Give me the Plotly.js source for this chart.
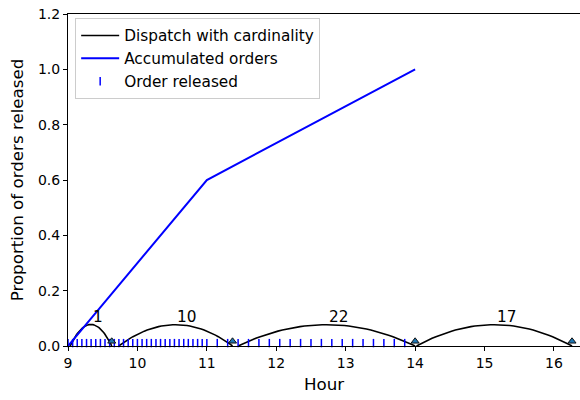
<!DOCTYPE html>
<html>
<head>
<meta charset="utf-8">
<script src="https://cdn.plot.ly/plotly-3.0.1.min.js"></script>
<style>html,body{margin:0;padding:0;background:#fff;}#chart{width:580px;height:400px;}</style>
</head>
<body>
<div id="chart"></div>
<script>
// Data
const accumHours = [9, 11, 14];
const accumProp = [0, 0.6, 1.0];

const releaseHours = [
  9.000, 9.067, 9.133, 9.200, 9.267, 9.333, 9.400, 9.467, 9.533, 9.600,
  9.667, 9.733, 9.800, 9.867, 9.933, 10.000, 10.067, 10.133, 10.200, 10.267,
  10.333, 10.400, 10.467, 10.533, 10.600, 10.667, 10.733, 10.800, 10.867, 10.933,
  11.00, 11.15, 11.30, 11.45, 11.60, 11.75, 11.90, 12.05, 12.20, 12.35,
  12.50, 12.65, 12.80, 12.95, 13.10, 13.25, 13.40, 13.55, 13.70, 13.85
];
const releaseLevel = releaseHours.map(() => 0.0105);

const dispatchStart = [9.03, 9.73, 11.45, 14.02];
const dispatchEnd = [9.63, 11.37, 14.0, 16.26];
const dispatchCount = [1, 10, 22, 17];
const arcHeight = [0.078, 0.077, 0.077, 0.077];
const labelX = [9.43, 10.71, 12.89, 15.31];
const labelY = [0.105, 0.105, 0.105, 0.105];

const FONT = 'DejaVu Sans, sans-serif';

const traces = [];
// Dispatch arcs (quadratic curves between dispatch start and end)
dispatchStart.forEach((s, i) => {
  const e = dispatchEnd[i];
  const h = arcHeight[i];
  const xs = [], ys = [];
  const n = 40;
  for (let k = 0; k <= n; k++) {
    const t = k / n;
    xs.push(s + (e - s) * t);
    ys.push(4 * h * t * (1 - t));
  }
  traces.push({
    x: xs, y: ys, type: 'scatter', mode: 'lines',
    line: {color: 'black', width: 1.6},
    name: 'Dispatch with cardinality',
    legendgroup: 'dispatch',
    showlegend: i === 0,
    hoverinfo: 'skip', cliponaxis: false
  });
});

traces.push({
  x: accumHours, y: accumProp, type: 'scatter', mode: 'lines',
  line: {color: '#0000ff', width: 2},
  name: 'Accumulated orders'
});

traces.push({
  x: releaseHours, y: releaseLevel, type: 'scatter', mode: 'markers',
  marker: {symbol: 'line-ns', size: 6, color: '#0000ff', line: {color: '#0000ff', width: 1.5}},
  name: 'Order released', cliponaxis: false
});

// Arrow heads at dispatch ends
traces.push({
  x: dispatchEnd, y: dispatchEnd.map(() => 0.017), type: 'scatter', mode: 'markers',
  marker: {symbol: 'triangle-up', size: 7, color: '#1f77b4', line: {color: '#111', width: 1}},
  showlegend: false, hoverinfo: 'skip', cliponaxis: false
});

const annotations = dispatchCount.map((c, i) => ({
  x: labelX[i], y: labelY[i], xref: 'x', yref: 'y',
  text: String(c), showarrow: false,
  font: {family: FONT, size: 15.3, color: 'black'},
  xanchor: 'center', yanchor: 'middle'
}));

const layout = {
  width: 580, height: 400,
  margin: {l: 68, r: 0, t: 14, b: 54},
  paper_bgcolor: 'white', plot_bgcolor: 'white',
  font: {family: FONT, size: 14, color: 'black'},
  showlegend: true,
  legend: {
    x: 0.014, y: 0.988, xanchor: 'left', yanchor: 'top',
    bgcolor: 'rgba(255,255,255,0.8)', bordercolor: '#cccccc', borderwidth: 1,
    font: {family: FONT, size: 15.3, color: 'black'},
    tracegroupgap: 0, itemwidth: 38
  },
  xaxis: {
    range: [9, 16.375], dtick: 1, tick0: 9,
    showgrid: false, zeroline: false,
    showline: true, linecolor: 'black', linewidth: 1, mirror: true,
    ticks: 'outside', ticklen: 4, tickcolor: 'black',
    tickfont: {family: FONT, size: 14},
    title: {text: 'Hour', font: {family: FONT, size: 16.7}, standoff: 8}
  },
  yaxis: {
    range: [0, 1.2], dtick: 0.2, tick0: 0, tickformat: '.1f',
    showgrid: false, zeroline: false,
    showline: true, linecolor: 'black', linewidth: 1, mirror: true,
    ticks: 'outside', ticklen: 4, tickcolor: 'black',
    tickfont: {family: FONT, size: 14},
    title: {text: 'Proportion of orders released', font: {family: FONT, size: 16.7}, standoff: 10}
  },
  annotations: annotations
};

Plotly.newPlot('chart', traces, layout, {displayModeBar: false, staticPlot: true});
</script>
</body>
</html>
